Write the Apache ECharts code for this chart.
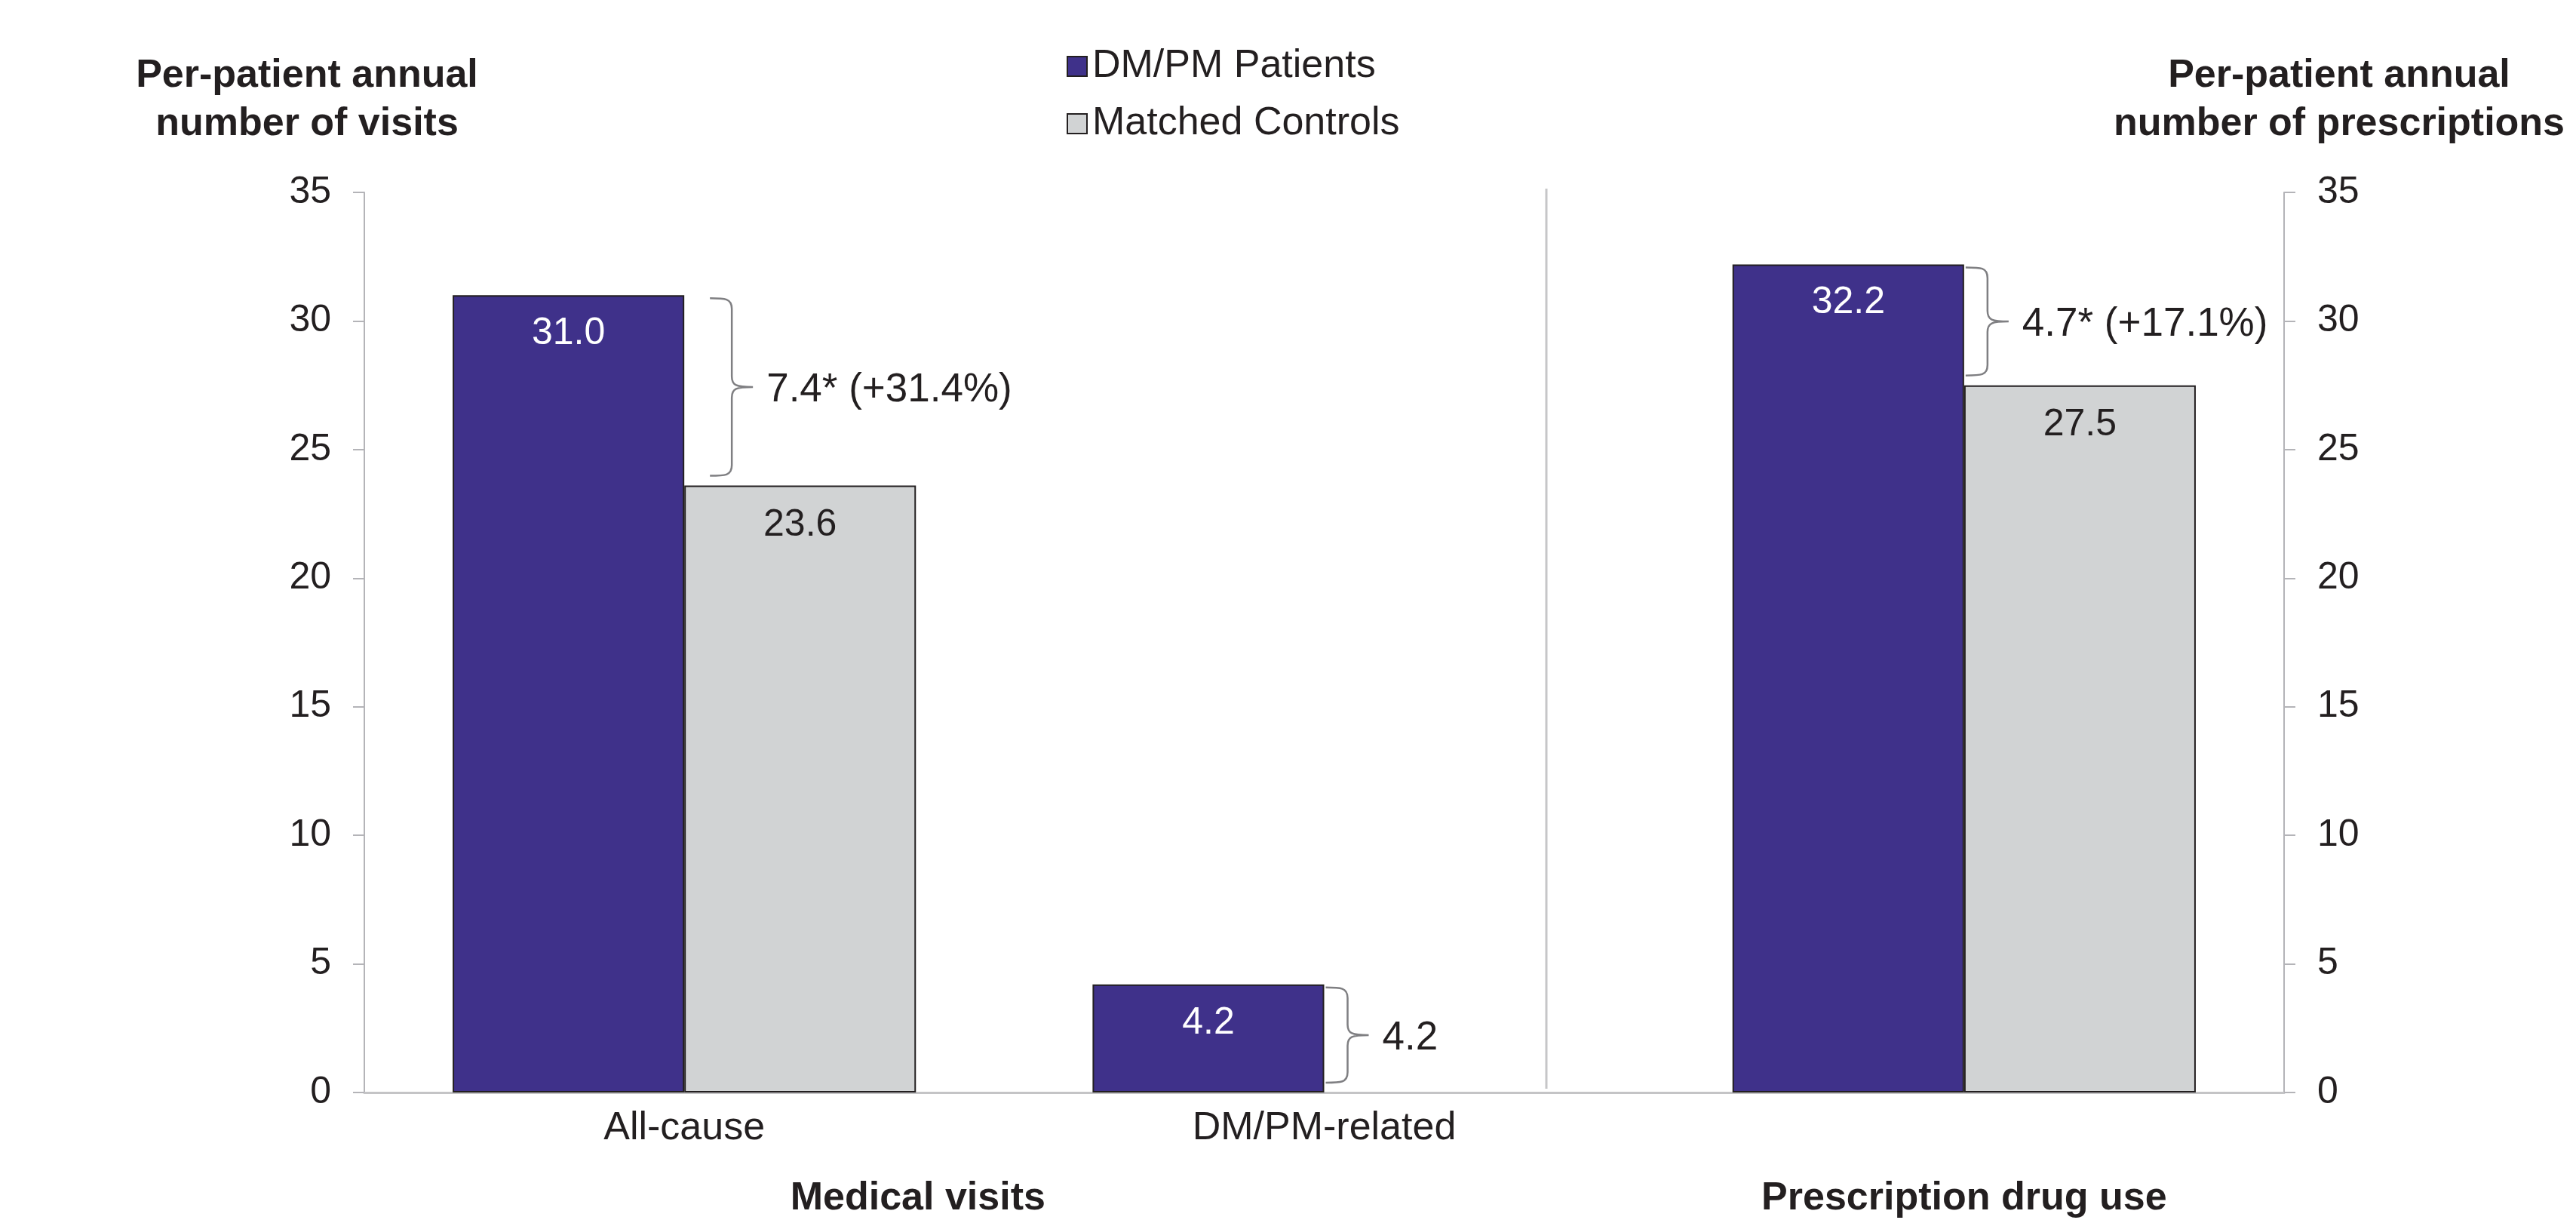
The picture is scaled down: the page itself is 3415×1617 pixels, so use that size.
<!DOCTYPE html>
<html>
<head>
<meta charset="utf-8">
<title>Per-patient annual medical visits and prescriptions</title>
<script src="https://cdn.jsdelivr.net/npm/echarts@6/dist/echarts.min.js"></script>
<style>
  html, body { margin: 0; padding: 0; background: #ffffff; }
  #chart { width: 3415px; height: 1617px; }
</style>
</head>
<body>
<div id="chart"></div>
<script>
// Categories along the x axis (third slot belongs to prescription drug use)
const categories = ['All-cause', 'DM/PM-related', ''];

// Per-patient annual counts
const patients = [31.0, 4.2, 32.2];
const controls = [23.6, null, 27.5];

// Difference annotations drawn as braces between the paired bars
const diffLabels = ['7.4* (+31.4%)', '4.2', '4.7* (+17.1%)'];

// Value-axis ticks
const yMin = 0;
const yMax = 35;
const yStep = 5;

// Group captions under the x axis
const groupLabels = ['Medical visits', 'Prescription drug use'];

const FONT = '"Liberation Sans", Arial, Helvetica, sans-serif';
const INK = '#231F20';
const PURPLE = '#3F318A';
const GREY = '#D1D3D4';
const AXIS_GREY = '#B4B4B8';

// horizontal offset of each brace from the centre of its category band (px)
const braceGap = [34, 2, 2];

const chart = echarts.init(document.getElementById('chart'), null, { renderer: 'canvas' });

const valueAxisBase = {
  type: 'value',
  min: yMin,
  max: yMax,
  interval: yStep,
  splitLine: { show: false },
  axisLine: { show: true, lineStyle: { color: AXIS_GREY, width: 2 } },
  axisTick: { show: true, length: 15, lineStyle: { color: AXIS_GREY, width: 2 } },
  axisLabel: { fontFamily: FONT, fontSize: 50, color: INK, margin: 44 },
  nameLocation: 'end',
  nameGap: 58,
  nameTextStyle: {
    fontFamily: FONT, fontSize: 52, fontWeight: 'bold', color: INK,
    lineHeight: 64, align: 'center', verticalAlign: 'bottom'
  }
};

const braceData = categories.map((c, i) => [i, patients[i], controls[i] == null ? 0 : controls[i]]);

function renderBrace(params, api) {
  const i = params.dataIndex;
  const cat = api.value(0);
  const top = api.coord([cat, api.value(1)]);
  const bot = api.coord([cat, api.value(2)]);
  const x0 = top[0] + braceGap[i];
  const x1 = x0 + 29;
  const x2 = x1 + 28;
  const yt = top[1] + 4;
  const yb = bot[1] - 13;
  const ym = (yt + yb) / 2;
  const r = Math.min(14, (yb - yt) / 6);
  const d =
    'M' + x0 + ',' + yt +
    ' C' + (x0 + 20) + ',' + yt + ' ' + x1 + ',' + yt + ' ' + x1 + ',' + (yt + r) +
    ' L' + x1 + ',' + (ym - r) +
    ' C' + x1 + ',' + (ym - 2) + ' ' + (x1 + 6) + ',' + ym + ' ' + x2 + ',' + ym +
    ' M' + x2 + ',' + ym +
    ' C' + (x1 + 6) + ',' + ym + ' ' + x1 + ',' + (ym + 2) + ' ' + x1 + ',' + (ym + r) +
    ' L' + x1 + ',' + (yb - r) +
    ' C' + x1 + ',' + yb + ' ' + (x0 + 20) + ',' + yb + ' ' + x0 + ',' + yb;
  return {
    type: 'group',
    children: [
      {
        type: 'path',
        shape: { pathData: d },
        style: { fill: 'none', stroke: '#7F7F82', lineWidth: 2.5 }
      },
      {
        type: 'text',
        style: {
          text: diffLabels[i],
          x: x2 + 18,
          y: ym + 4,
          fill: INK,
          font: '53px ' + FONT,
          verticalAlign: 'middle',
          align: 'left'
        }
      }
    ]
  };
}

chart.setOption({
  animation: false,
  backgroundColor: '#ffffff',
  textStyle: { fontFamily: FONT },
  grid: { left: 483, right: 387, top: 255, bottom: 169, containLabel: false },
  legend: {
    data: ['DM/PM Patients', 'Matched Controls'],
    orient: 'vertical',
    left: 1409,
    top: 57,
    itemWidth: 26,
    itemHeight: 26,
    itemGap: 24,
    icon: 'rect',
    textStyle: { fontFamily: FONT, fontSize: 52, lineHeight: 52, color: INK, padding: [0, 0, 0, 2] }
  },
  xAxis: {
    type: 'category',
    data: categories,
    axisLine: { show: true, lineStyle: { color: '#C4C4C6', width: 3 } },
    axisTick: { show: false },
    axisLabel: { fontFamily: FONT, fontSize: 52, lineHeight: 52, color: INK, margin: 22 }
  },
  yAxis: [
    Object.assign({}, valueAxisBase, {
      position: 'left',
      name: 'Per-patient annual\nnumber of visits',
      nameTextStyle: Object.assign({}, valueAxisBase.nameTextStyle, { padding: [0, 152, 0, 0] })
    }),
    Object.assign({}, valueAxisBase, {
      position: 'right',
      name: 'Per-patient annual\nnumber of prescriptions',
      nameTextStyle: Object.assign({}, valueAxisBase.nameTextStyle, { padding: [0, 0, 0, 146] })
    })
  ],
  series: [
    {
      name: 'DM/PM Patients',
      type: 'bar',
      data: patients,
      barGap: '0%',
      barCategoryGap: '27.6%',
      itemStyle: { color: PURPLE, borderColor: INK, borderWidth: 2 },
      label: {
        show: true, position: 'insideTop', distance: 26,
        color: '#ffffff', fontFamily: FONT, fontSize: 50,
        formatter: p => p.value.toFixed(1)
      }
    },
    {
      name: 'Matched Controls',
      type: 'bar',
      data: controls,
      itemStyle: { color: GREY, borderColor: INK, borderWidth: 2 },
      label: {
        show: true, position: 'insideTop', distance: 28,
        color: INK, fontFamily: FONT, fontSize: 50,
        formatter: p => (p.value == null ? '' : p.value.toFixed(1))
      }
    },
    {
      name: 'differences',
      type: 'custom',
      coordinateSystem: 'cartesian2d',
      data: braceData,
      encode: { x: 0, y: [1, 2] },
      renderItem: renderBrace,
      silent: true,
      z: 5
    }
  ]
});

// Divider between the medical-visit and prescription groups, and the group captions
const c0 = chart.convertToPixel({ gridIndex: 0 }, [0, 0]);
const c1 = chart.convertToPixel({ gridIndex: 0 }, [1, 0]);
const c2 = chart.convertToPixel({ gridIndex: 0 }, [2, 0]);
const yTop = chart.convertToPixel({ gridIndex: 0 }, [0, yMax])[1];
const band = c1[0] - c0[0];
const dividerX = Math.round(c1[0] + band * 0.347);

chart.setOption({
  graphic: [
    {
      type: 'line',
      shape: { x1: dividerX, y1: yTop - 5, x2: dividerX, y2: c0[1] - 5 },
      style: { stroke: '#C6C6C8', lineWidth: 3 },
      silent: true
    },
    {
      type: 'text',
      x: c0[0] + band * 0.365,
      y: c0[1] + 141,
      style: {
        text: groupLabels[0], fill: INK, font: 'bold 52px ' + FONT,
        align: 'center', verticalAlign: 'middle'
      }
    },
    {
      type: 'text',
      x: c2[0],
      y: c0[1] + 141,
      style: {
        text: groupLabels[1], fill: INK, font: 'bold 52px ' + FONT,
        align: 'center', verticalAlign: 'middle'
      }
    }
  ]
});
</script>
</body>
</html>
